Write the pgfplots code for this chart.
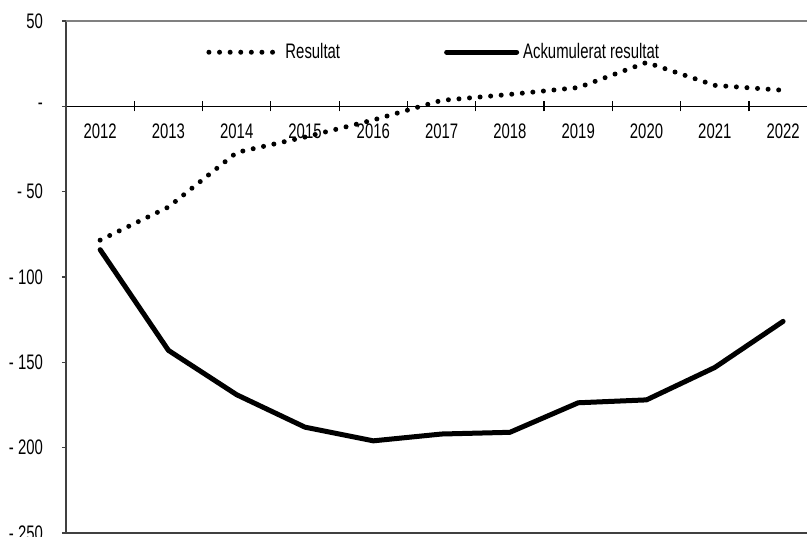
\documentclass[border=0pt]{standalone}
\usepackage{pgfplots}
\pgfplotsset{compat=1.18}
\usepackage{fontspec}
\setmainfont{Liberation Sans}[FakeStretch=0.71]
\begin{document}
\begin{tikzpicture}
\begin{axis}[
  scale only axis, width=370.5pt, height=256pt,
  xmin=-0.5, xmax=10.35, ymin=-250, ymax=50,
  axis x line*=middle, axis y line*=left,
  clip=false,
  /pgf/number format/assume math mode=true,
  tick align=center,
  major tick length=2pt,
  minor tick length=5pt,
  xtick={0,...,10},
  xticklabels={2012,2013,2014,2015,2016,2017,2018,2019,2020,2021,2022},
  minor xtick={0.5,1.5,...,9.5},
  major x tick style={draw=none},
  minor x tick style={black, line width=0.6pt},
  ytick={-250,-200,-150,-100,-50,0,50},
  yticklabels={- 250,- 200,- 150,- 100,- 50,{-\hspace{4pt}},50},
  y tick style={black!75, line width=0.6pt, xshift=-1pt},
  tick label style={font=\fontsize{10.5}{12}\selectfont},
  xticklabel style={yshift=-4pt},
  yticklabel style={xshift=-7pt},
  x axis line style={black, line width=0.6pt},
  y axis line style={black!75, line width=0.8pt},
  legend style={draw=none, fill=none, at={(0.189,0.939)}, anchor=west,
    inner sep=0pt, font=\fontsize{10.5}{12}\selectfont,
    /tikz/every even column/.append style={column sep=50pt}},
  legend columns=2,
  legend image code/.code={\draw[#1] (0pt,0pt) -- (35pt,0pt);},
]
\addplot[black, line width=2.5pt, line cap=round, dash pattern=on 0pt off 5.3pt]
  coordinates {(0,-78.4) (1,-59) (2,-27) (3,-18) (4,-8) (5,3.5) (6,7) (7,11) (8,25.7) (9,12.3) (10,9.4)};
\addlegendentry{Resultat}
\addplot[black, line width=2.5pt, line cap=round, line join=round]
  coordinates {(0,-84) (1,-143) (2,-169) (3,-188) (4,-196) (5,-192) (6,-191) (7,-173.7) (8,-172) (9,-153) (10,-126)};
\addlegendentry{Ackumulerat resultat}
\draw[black!50, line width=0.8pt] (rel axis cs:0,1) -- (rel axis cs:1,1);
\draw[black!75, line width=0.8pt] (rel axis cs:0,0) -- (rel axis cs:1,0);
\end{axis}
\pgfresetboundingbox
\path[use as bounding box] ([xshift=-33pt,yshift=-1.5pt]current axis.south west) rectangle ([yshift=10.5pt]current axis.north east);
\end{tikzpicture}
\end{document}
